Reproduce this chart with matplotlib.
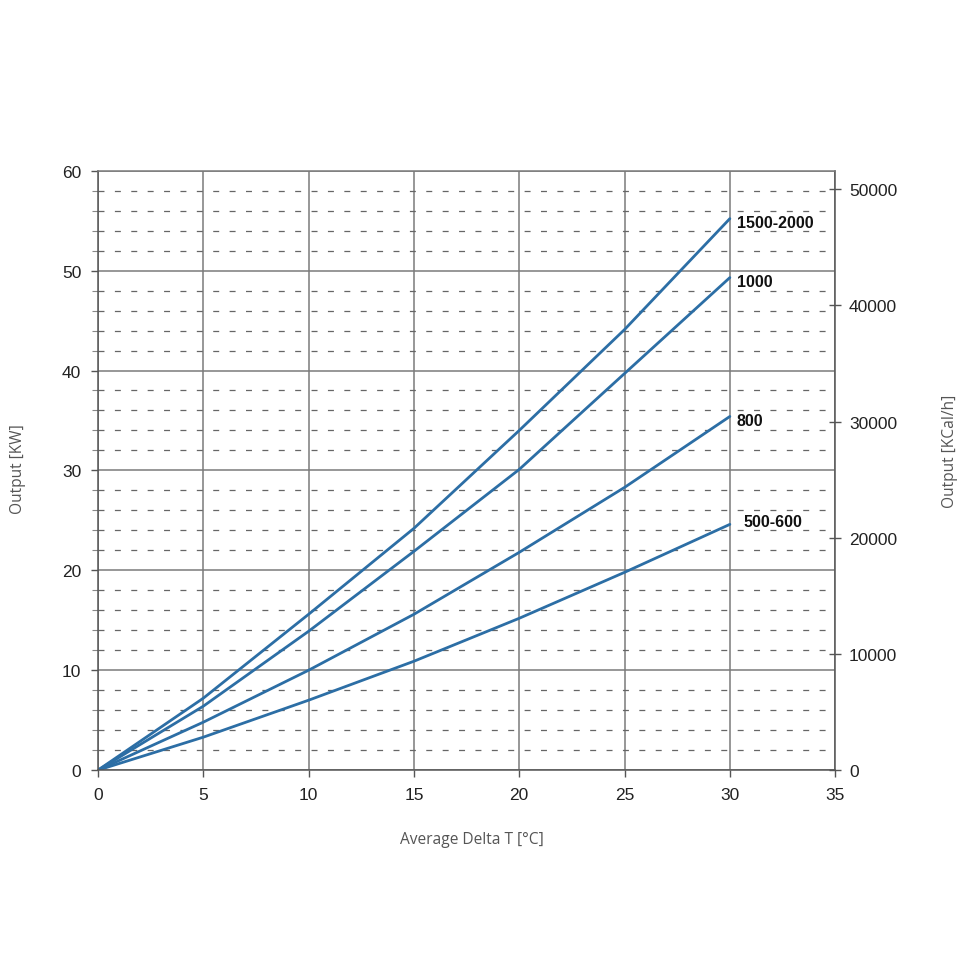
import matplotlib
matplotlib.use("Agg")
import matplotlib.pyplot as plt
import numpy as np

delta_t = [0, 5, 10, 15, 20, 25, 30]
series_names = ["1500-2000", "1000", "800", "500-600"]
out_1500_2000 = [0, 7.2, 15.6, 24.2, 34.0, 44.1, 55.2]
out_1000 = [0, 6.4, 13.9, 21.9, 30.1, 39.7, 49.3]
out_800 = [0, 4.8, 10.0, 15.6, 21.8, 28.3, 35.4]
out_500_600 = [0, 3.3, 7.0, 10.9, 15.2, 19.8, 24.6]
x_ticks = [0, 5, 10, 15, 20, 25, 30, 35]
y_ticks = [0, 10, 20, 30, 40, 50, 60]
kcal_ticks = [0, 10000, 20000, 30000, 40000, 50000]
KW_TO_KCAL = 860

plt.rcParams['lines.scale_dashes'] = False
plt.rcParams['font.family'] = ["Liberation Sans", "DejaVu Sans"]

fig = plt.figure(figsize=(9.7, 9.7), dpi=100)
ax = fig.add_axes([0.101, 0.205, 0.760, 0.618])

tick_size = 12.5
label_font = dict(family=["Open Sans", "DejaVu Sans"], size=11.2, color="#555555")

ax.set_xlim(0, 35)
ax.set_ylim(0, 60)
ax.set_xticks(x_ticks)
ax.set_yticks(y_ticks)
ax.set_xticklabels([str(t) for t in x_ticks])
ax.set_yticklabels([str(t) for t in y_ticks])
minor = [v for v in range(0, 61, 2) if v % 10 != 0]
ax.set_yticks(minor, minor=True)

grid_col = "#7a7a7a"
ax.grid(True, which="major", color=grid_col, linewidth=1.1, linestyle="-")
ax.grid(True, which="minor", axis="y", color="#666666", linewidth=0.9,
        linestyle=(0, (4.3, 7.5)))
ax.set_axisbelow(True)

for s in ax.spines.values():
    s.set_color("#555555")
    s.set_linewidth(1.1)
ax.spines["top"].set_color(grid_col)

ax.tick_params(axis="both", which="major", direction="out", length=5,
               color="#555555", width=1, pad=7, labelcolor="#222222",
               labelsize=tick_size)
ax.tick_params(axis="y", which="minor", direction="out", length=4,
               color="#888888", width=0.8)

series = [out_1500_2000, out_1000, out_800, out_500_600]
line_col = "#2C6EA5"
offsets = [(5, -3), (5, -3), (5, -3), (10, 2)]
for name, vals, off in zip(series_names, series, offsets):
    ax.plot(delta_t, vals, color=line_col, linewidth=2.0, solid_capstyle="round")
    ax.annotate(name, xy=(delta_t[-1], vals[-1]), xytext=off,
                textcoords="offset points", ha="left", va="center",
                fontweight="bold", size=11.5, color="#111111")

ax2 = ax.twinx()
ax2.set_ylim(0, 60 * KW_TO_KCAL)
ax2.set_yticks(kcal_ticks)
ax2.set_yticklabels([str(t) for t in kcal_ticks])
ax2.tick_params(axis="y", direction="inout", length=8, color="#555555",
                width=1, pad=6, labelcolor="#222222", labelsize=tick_size)
for s in ax2.spines.values():
    s.set_visible(False)

fig.text(0.019, 0.516, "Output [KW]", rotation=90, ha="center", va="center",
         **label_font)
fig.text(0.979, 0.535, "Output [KCal/h]", rotation=90, ha="center", va="center",
         **label_font)
fig.text(0.486, 0.134, "Average Delta T [°C]", ha="center", va="center",
         **label_font)

fig.savefig("out.png", dpi=100, facecolor="white")
